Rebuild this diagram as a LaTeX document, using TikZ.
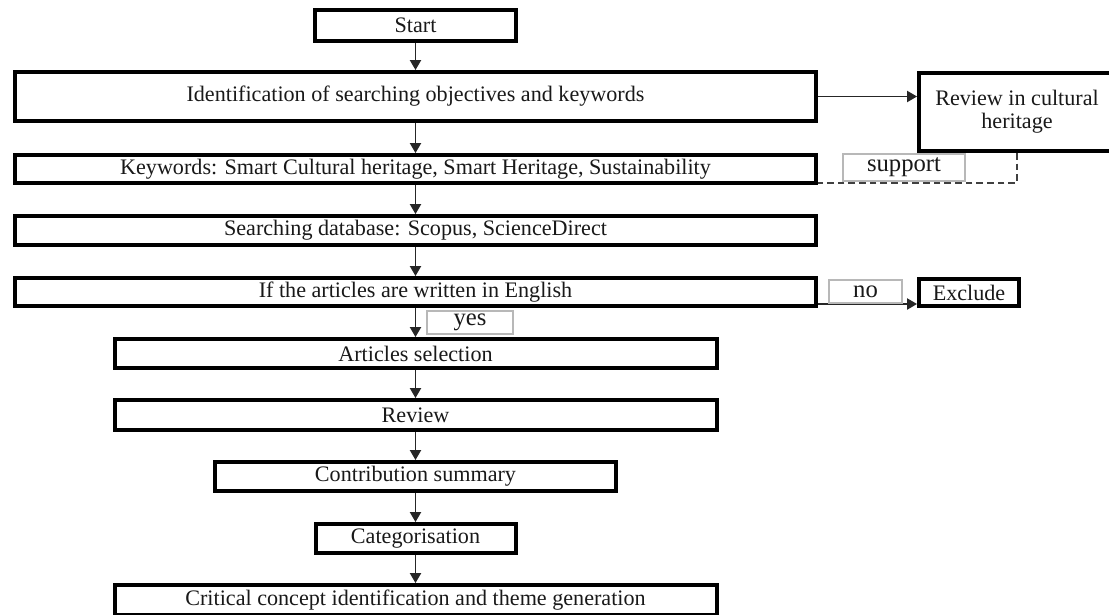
\documentclass[tikz,border=0pt]{standalone}
\usepackage{fontspec}
\setmainfont{Liberation Serif}
\usetikzlibrary{arrows.meta,calc}
\tikzset{
  sz/.style 2 args={minimum width={#1*0.75pt}, minimum height={#2*0.75pt}},
  box/.style={draw=black, line width=3pt, fill=white, inner sep=0pt, text=black!90,
    font=\fontsize{16.6}{17.5}\selectfont, align=center},
  lbl/.style={draw=black!28, line width=1.1pt, fill=white, inner sep=0pt, text=black!90,
    font=\fontsize{18.5}{21}\selectfont},
  arr/.style={draw=black!85, line width=0.9pt, -{Triangle[length=7.5pt,width=8.5pt]}},
  dsh/.style={draw=black!75, line width=1pt, dash pattern=on 5pt off 3pt}
}
\begin{document}
\begin{tikzpicture}[x=0.75pt,y=-0.75pt]
\useasboundingbox (0,0) rectangle (1109,614);
\clip (0,0) rectangle (1109,614);
\fill[white] (0,0) rectangle (1109,614);

\node[box, sz={201}{31}] (start) at (415.5,25.5) {Start};
\node[box, sz={801}{49}] (ident) at (415.5,96.5) {Identification of searching objectives and keywords};
\node[box, sz={196}{78}] (review) at (1017,112) {Review in cultural\\heritage};
\node[box, sz={801}{28}] (kw) at (415.5,169) {Keywords: Smart Cultural heritage, Smart Heritage, Sustainability};
\node[box, sz={801}{29}] (search) at (415.5,230.5) {Searching database: Scopus, ScienceDirect};
\node[box, sz={801}{28}] (eng) at (415.5,292) {If the articles are written in English};
\node[box, sz={100}{27}] (excl) at (969,292.5) {Exclude};
\node[box, sz={602}{29}] (artsel) at (415.5,353.5) {Articles selection};
\node[box, sz={602}{30}] (rev) at (415.5,415) {Review};
\node[box, sz={401}{29}] (contrib) at (415.5,476.5) {Contribution summary};
\node[box, sz={200}{29}] (categ) at (415.5,538.5) {Categorisation};
\node[box, sz={602}{30}] (crit) at (415.5,600) {Critical concept identification and theme generation};

\draw[arr] (start) -- (ident);
\draw[arr] (ident) -- (kw);
\draw[arr] (kw) -- (search);
\draw[arr] (search) -- (eng);
\draw[arr] (eng) -- (artsel);
\draw[arr] (artsel) -- (rev);
\draw[arr] (rev) -- (contrib);
\draw[arr] (contrib) -- (categ);
\draw[arr] (categ) -- (crit);
\draw[arr] (ident.east) -- (review.west |- ident.east);
\coordinate (noStart) at ([shift={(0,12)}]eng.east);
\draw[arr] (noStart) -- (noStart -| excl.west);
\coordinate (supEnd) at ([shift={(0,14)}]kw.east);
\draw[dsh] (review.south) |- (supEnd);

\node[lbl, sz={122}{27}] (support) at (904,167.5) {support};
\node[lbl, sz={73}{23}] (no) at (865.5,291.5) {no};
\node[lbl, sz={86}{23}] (yes) at (470,322.5) {yes};
\end{tikzpicture}
\end{document}
